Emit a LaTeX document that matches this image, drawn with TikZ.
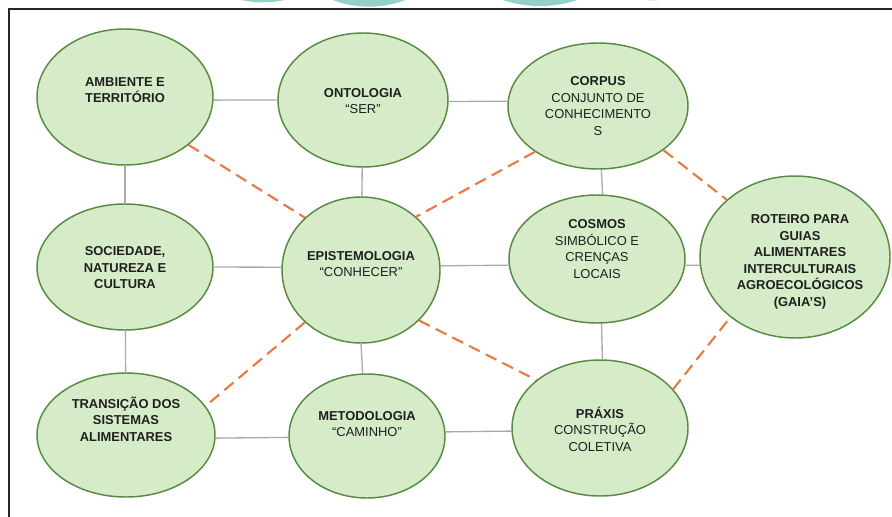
\documentclass[tikz,border=0pt]{standalone}
\usepackage{fontspec}
\setmainfont{Liberation Sans}
\usetikzlibrary{shapes.geometric}

\definecolor{bubblefill}{RGB}{214,236,201}
\definecolor{bubbleline}{RGB}{88,138,66}
\definecolor{linkgray}{RGB}{166,172,166}
\definecolor{linkorange}{RGB}{232,122,66}
\definecolor{blobteal}{RGB}{148,208,201}

\begin{document}
\begin{tikzpicture}[x=0.75pt,y=-0.75pt,
	bubble/.style={ellipse, draw=bubbleline, fill=bubblefill, line width=1.1pt, inner sep=0pt},
	txt/.style={align=center, inner sep=0pt, text=black!88, font=\fontsize{9.7}{12.4}\selectfont},
	solidlink/.style={draw=linkgray, line width=1pt},
	dashlink/.style={draw=linkorange, line width=1.6pt, dash pattern=on 9pt off 5pt}]

	% page size
	\useasboundingbox (0,0) rectangle (892,517);

	% cut off circles of the figure above
	\begin{scope}
		\clip (0,0) rectangle (892,8.5);
		\fill[blobteal] (263,-99) circle[radius=76pt];
		\fill[blobteal] (369,-96) circle[radius=77pt];
		\fill[blobteal] (540,-114) circle[radius=90pt];
		\fill[blobteal] (653,-73) circle[radius=55pt];
	\end{scope}

	% frame, only top and left side visible
	\draw[line width=1.5pt, black!85] (9,517) -- (9,9.5) -- (892,9.5);

	% ellipses, left column
	\node[bubble, minimum width=132pt, minimum height=102pt] (amb) at (125,97) {};
	\node[bubble, minimum width=132pt, minimum height=94.5pt] (soc) at (125,267) {};
	\node[bubble, minimum width=133.5pt, minimum height=93pt] (tra) at (126,435) {};
	% middle column
	\node[bubble, minimum width=127.5pt, minimum height=100.5pt] (ont) at (363,100) {};
	\node[bubble, minimum width=118.5pt, minimum height=109.5pt] (epi) at (361,270) {};
	\node[bubble, minimum width=117pt, minimum height=93pt] (met) at (367,436) {};
	% right column
	\node[bubble, minimum width=135pt, minimum height=94.5pt] (corp) at (598,106) {};
	\node[bubble, minimum width=132pt, minimum height=96pt] (cos) at (597,259) {};
	\node[bubble, minimum width=132pt, minimum height=102pt] (prx) at (600,428) {};
	% outcome
	\node[bubble, minimum width=142.5pt, minimum height=121.5pt] (rot) at (795,257) {};

	% texts of the ellipses
	\node[txt] (amb-t) at (125,90) {\textbf{AMBIENTE E}\\\textbf{TERRITÓRIO}};
	\node[txt] (soc-t) at (125,268) {\textbf{SOCIEDADE,}\\\textbf{NATUREZA E}\\\textbf{CULTURA}};
	\node[txt] (tra-t) at (126,419) {\textbf{TRANSIÇÃO DOS}\\\textbf{SISTEMAS}\\\textbf{ALIMENTARES}};
	\node[txt] (ont-t) at (363,101) {\textbf{ONTOLOGIA}\\“SER”};
	\node[txt] (epi-t) at (361,264) {\textbf{EPISTEMOLOGIA}\\“CONHECER”};
	\node[txt] (met-t) at (367,424) {\textbf{METODOLOGIA}\\“CAMINHO”};
	\node[txt] (corp-t) at (598,106) {\textbf{CORPUS}\\CONJUNTO DE\\CONHECIMENTO\\S};
	\node[txt] (cos-t) at (597,249) {\textbf{COSMOS}\\SIMBÓLICO E\\CRENÇAS\\LOCAIS};
	\node[txt] (prx-t) at (600,429) {\textbf{PRÁXIS}\\CONSTRUÇÃO\\COLETIVA};
	\node[txt] (rot-t) at (800,262) {\textbf{ROTEIRO PARA}\\\textbf{GUIAS}\\\textbf{ALIMENTARES}\\\textbf{INTERCULTURAIS}\\\textbf{AGROECOLÓGICOS}\\\textbf{(GAIA’S)}};

	% grid of solid links, rows kept level
	\draw[solidlink] (amb.-2.6) -- (ont.180.7);
	\draw[solidlink] (ont.-1.5) -- (corp.177.5);
	\draw[solidlink] (soc.0) -- (epi.178);
	\draw[solidlink] (epi.3) -- (cos.184.5);
	\draw[solidlink] (cos.-4.5) -- (rot.185.4);
	\draw[solidlink] (tra.-2) -- (met.181.5);
	\draw[solidlink] (met.3) -- (prx.182.6);
	% columns
	\draw[solidlink] (amb) -- (soc);
	\draw[solidlink] (soc) -- (tra);
	\draw[solidlink] (ont) -- (epi);
	\draw[solidlink] (epi.-90) -- (met.94.6);
	\draw[solidlink] (corp.-87.5) -- (cos.85.5);
	\draw[solidlink] (cos.-86.7) -- (prx.88.3);

	% dashed diagonals
	\draw[dashlink] (amb.-37) -- (epi.137);
	\draw[dashlink] (corp.-144) -- (epi.44);
	\draw[dashlink] (epi.-137) -- (tra.20);
	\draw[dashlink] (epi.-41) -- (prx.143);
	\draw[dashlink] (corp.-34) -- (rot.140);
	\draw[dashlink] (prx.28) -- (rot.-137);

\end{tikzpicture}
\end{document}
